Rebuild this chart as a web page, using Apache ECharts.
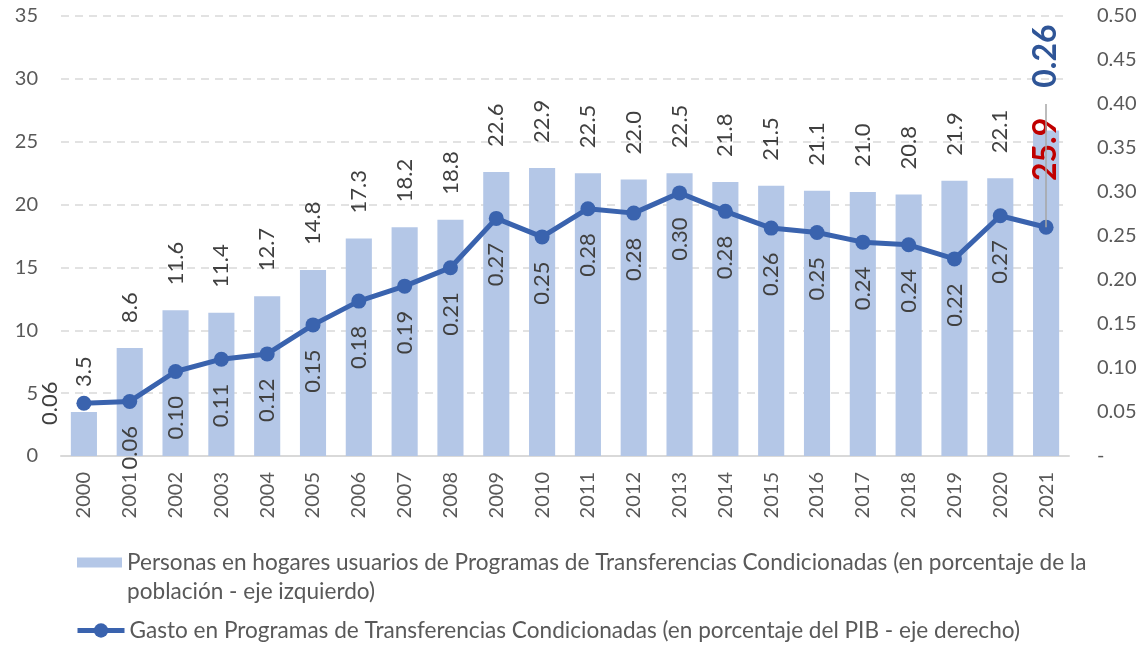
<!DOCTYPE html>
<html>
<head>
<meta charset="utf-8">
<title>Programas de Transferencias Condicionadas</title>
<script src="https://cdn.jsdelivr.net/npm/echarts@6/dist/echarts.min.js"></script>
<style>
  html, body { margin: 0; padding: 0; background: #fff; }
  #chart { width: 1141px; height: 646px; }
</style>
</head>
<body>
<div id="chart"></div>
<script>
// Datos
var years = ['2000','2001','2002','2003','2004','2005','2006','2007','2008','2009','2010',
             '2011','2012','2013','2014','2015','2016','2017','2018','2019','2020','2021'];
// personas en hogares usuarios (% de la poblacion) - eje izquierdo
var personas = [3.5, 8.6, 11.6, 11.4, 12.7, 14.8, 17.3, 18.2, 18.8, 22.6, 22.9,
                22.5, 22.0, 22.5, 21.8, 21.5, 21.1, 21.0, 20.8, 21.9, 22.1, 25.9];
// gasto (% del PIB) - eje derecho
var gasto = [0.060, 0.062, 0.096, 0.110, 0.116, 0.149, 0.176, 0.193, 0.214, 0.270, 0.249,
             0.281, 0.276, 0.299, 0.278, 0.259, 0.254, 0.243, 0.240, 0.224, 0.273, 0.260];
var leftTicks = [0, 35, 5];       // min, max, intervalo
var rightTicks = [0, 0.5, 0.05];  // min, max, intervalo
var leaderEnd = 0.40;             // fin de la linea guia de la etiqueta 2021

var nameBarras = 'Personas en hogares usuarios de Programas de Transferencias Condicionadas (en porcentaje de la población - eje izquierdo)';
var nameLinea = 'Gasto en Programas de Transferencias Condicionadas (en porcentaje del PIB - eje derecho)';

var FONT = 'Lato, "Noto Sans", sans-serif';
var last = years.length - 1;

// datos de barras, el ultimo con etiqueta destacada
var barData = [];
for (var i = 0; i < personas.length; i++) {
    var item = { value: personas[i] };
    if (i == last) {
        item.label = {
            position: 'insideTop', distance: 19, align: 'center', verticalAlign: 'middle',
            color: '#C00000', fontWeight: 'bold', fontSize: 32
        };
    }
    barData.push(item);
}
// datos de la linea
var lineData = [];
for (var i = 0; i < gasto.length; i++) {
    var item = { value: gasto[i] };
    if (i == 0) {
        item.label = { position: 'left', distance: 16, align: 'center', verticalAlign: 'bottom' };
    }
    if (i == last) {
        item.label = {
            position: 'top', distance: 132, align: 'left', verticalAlign: 'middle',
            color: '#2F5597', fontWeight: 'bold', fontSize: 32
        };
    }
    lineData.push(item);
}

var chart = echarts.init(document.getElementById('chart'));
var option = {
    animation: false,
    textStyle: { fontFamily: FONT },
    grid: { left: 61, right: 72, top: 16, bottom: 190, containLabel: false },
    legend: [{
        data: [nameBarras],
        left: 77, top: 519, padding: 0,
        orient: 'vertical',
        itemWidth: 45, itemHeight: 10,
        icon: 'rect',
        // linea vacia al principio para que el icono quede en la primera linea
        formatter: function (name) {
            return '\nPersonas en hogares usuarios de Programas de Transferencias Condicionadas (en porcentaje de la\npoblación - eje izquierdo)';
        },
        textStyle: { fontFamily: FONT, fontSize: 22.6, color: '#595959', lineHeight: 29 }
    }, {
        data: [nameLinea],
        left: 75, top: 616, padding: 0,
        itemWidth: 47, itemHeight: 18,
        lineStyle: { width: 5 },
        textStyle: { fontFamily: FONT, fontSize: 22.6, color: '#595959', lineHeight: 29 }
    }],
    xAxis: {
        type: 'category',
        data: years,
        axisTick: { show: false },
        axisLine: { lineStyle: { color: '#D9D9D9', width: 2 } },
        axisLabel: { rotate: 90, margin: 16, fontSize: 20, color: '#595959', fontFamily: FONT, interval: 0 }
    },
    yAxis: [{
        type: 'value',
        min: leftTicks[0], max: leftTicks[1], interval: leftTicks[2],
        axisLine: { show: false },
        axisTick: { show: false },
        axisLabel: { margin: 23, fontSize: 20, color: '#595959', fontFamily: FONT },
        splitLine: { lineStyle: { color: '#D9D9D9', type: [8, 6], width: 1.5 } }
    }, {
        type: 'value',
        min: rightTicks[0], max: rightTicks[1], interval: rightTicks[2],
        axisLine: { show: false },
        axisTick: { show: false },
        splitLine: { show: false },
        axisLabel: {
            margin: 28, fontSize: 20, color: '#595959', fontFamily: FONT, align: 'left',
            formatter: function (v) {
                if (Math.abs(v) < 1e-9) return '-';
                return v.toFixed(2);
            }
        }
    }],
    series: [{
        name: nameBarras,
        type: 'bar',
        yAxisIndex: 0,
        barWidth: '57%',
        itemStyle: { color: '#B4C7E7' },
        label: {
            show: true, position: 'top', distance: 25, rotate: 90,
            align: 'left', verticalAlign: 'middle',
            fontSize: 22, color: '#404040', fontFamily: FONT,
            formatter: function (p) { return p.value.toFixed(1); }
        },
        data: barData
    }, {
        name: nameLinea,
        type: 'line',
        yAxisIndex: 1,
        symbol: 'circle',
        symbolSize: 15,
        lineStyle: { color: '#3A63AE', width: 5 },
        itemStyle: { color: '#3A63AE' },
        label: {
            show: true, position: 'bottom', distance: 17, rotate: 90,
            align: 'right', verticalAlign: 'middle',
            fontSize: 22, color: '#404040', fontFamily: FONT,
            formatter: function (p) { return p.value.toFixed(2); }
        },
        markLine: {
            silent: true,
            symbol: ['none', 'none'],
            label: { show: false },
            lineStyle: { color: '#A6A6A6', width: 1.5, type: 'solid' },
            data: [[
                { coord: [years[last], gasto[last]] },
                { coord: [years[last], leaderEnd] }
            ]]
        },
        z: 3,
        data: lineData
    }]
};
chart.setOption(option);
</script>
</body>
</html>
